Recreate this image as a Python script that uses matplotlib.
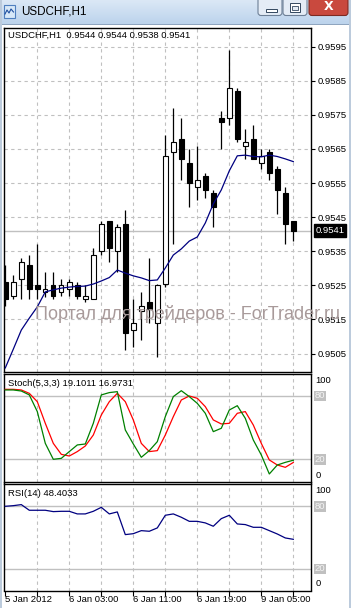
import numpy as np
import matplotlib
matplotlib.use("Agg")
import matplotlib.pyplot as plt
from matplotlib.patches import Rectangle, FancyBboxPatch
from matplotlib.colors import LinearSegmentedColormap

plt.rcParams["font.family"] = ["Liberation Sans", "DejaVu Sans"]

W, H, DPI = 351, 608, 100

# ---- data (USDCHF H1) ----
symbol = "USDCHF,H1"
opens = [0.9526, 0.9522, 0.9527, 0.9531, 0.9525, 0.9523, 0.9525, 0.9523, 0.9524, 0.9525,
         0.9521, 0.9521, 0.9535, 0.9544, 0.9535, 0.9543, 0.9512, 0.95175, 0.9520, 0.9514,
         0.95255, 0.9564, 0.9568, 0.9561, 0.9554, 0.9557, 0.9552, 0.9574, 0.9574, 0.9582,
         0.9566, 0.9568, 0.9561, 0.9564, 0.9559, 0.9552, 0.9544]
highs = [0.9531, 0.9528, 0.9533, 0.9534, 0.9537, 0.9529, 0.9529, 0.9527, 0.9527, 0.9526,
         0.9525, 0.9536, 0.9544, 0.9544, 0.9543, 0.9547, 0.9521, 0.9523, 0.9533, 0.95255,
         0.9569, 0.9577, 0.9574, 0.9565, 0.9566, 0.9558, 0.9553, 0.9576, 0.9594, 0.9583,
         0.9571, 0.9572, 0.9565, 0.9565, 0.9560, 0.9554, 0.9544]
lows = [0.9519, 0.9521, 0.9521, 0.9521, 0.9521, 0.95215, 0.9521, 0.9522, 0.9522, 0.9521,
        0.9520, 0.9521, 0.9534, 0.9532, 0.9529, 0.9506, 0.9507, 0.9509, 0.9514, 0.9504,
        0.95245, 0.9537, 0.9556, 0.9548, 0.9550, 0.95505, 0.9542, 0.9565, 0.9572, 0.9567,
        0.9562, 0.9562, 0.9559, 0.9556, 0.9546, 0.9537, 0.9538]
closes = [0.9521, 0.9526, 0.9532, 0.9524, 0.9524, 0.9524, 0.9522, 0.9525, 0.9526, 0.9522,
          0.9522, 0.9534, 0.9543, 0.9536, 0.9542, 0.9511, 0.9514, 0.9519, 0.9518, 0.9525,
          0.9563, 0.9567, 0.9562, 0.9555, 0.9556, 0.9553, 0.9548, 0.9573, 0.9583, 0.9568,
          0.9567, 0.9562, 0.9563, 0.9558, 0.9553, 0.9543, 0.9541]
ma_line = [0.95008, 0.95063, 0.95119, 0.95154, 0.95187, 0.95231, 0.95237, 0.95242, 0.95245,
           0.95247, 0.95248, 0.95254, 0.95263, 0.95273, 0.95295, 0.95286, 0.95278, 0.95272,
           0.95264, 0.95266, 0.95301, 0.95339, 0.95357, 0.95380, 0.95392, 0.95433, 0.95489,
           0.95530, 0.95586, 0.95630, 0.95632, 0.95628, 0.95627, 0.95632, 0.95628, 0.95621,
           0.95613]
stoch_main = [85.7, 85.7, 84.7, 81.0, 65.2, 35.1, 20.0, 20.9, 27.3, 33.6, 34.5, 54.1, 81.0,
              83.2, 84.1, 47.8, 34.5, 21.9, 28.2, 36.7, 60.4, 79.4, 85.0, 79.4, 73.0, 63.6,
              46.2, 49.4, 66.7, 70.8, 58.8, 38.3, 24.1, 6.1, 14.6, 17.1, 19.1]
stoch_signal = [86.3, 86.3, 85.7, 82.5, 74.6, 54.1, 35.1, 24.7, 23.1, 27.3, 32.6, 43.0, 62.0,
                74.6, 82.5, 74.6, 57.3, 35.1, 27.3, 28.2, 43.0, 60.4, 76.2, 80.0, 77.8, 69.9,
                57.3, 53.5, 54.1, 63.6, 65.2, 52.5, 35.1, 19.4, 14.6, 12.4, 17.0]
rsi = [80.0, 80.6, 81.6, 76.2, 76.2, 76.2, 74.9, 75.2, 75.2, 72.7, 72.7, 75.2, 79.0, 72.7,
       74.6, 52.9, 53.8, 56.7, 56.1, 59.3, 71.4, 72.7, 69.5, 65.6, 65.6, 64.1, 60.9, 68.2,
       71.4, 63.1, 62.5, 59.9, 59.9, 56.7, 53.5, 49.7, 48.4]

price_ticks = [0.9505, 0.9515, 0.9525, 0.9535, 0.9545, 0.9555, 0.9565, 0.9575, 0.9585, 0.9595]
levels = [80, 20]
time_labels = ["5 Jan 2012", "6 Jan 03:00", "6 Jan 11:00", "6 Jan 19:00", "9 Jan 05:00"]
time_label_bars = [0, 8, 16, 24, 32]
last_price = 0.9541
header_ohlc = "0.9544 0.9544 0.9538 0.9541"
stoch_header = "Stoch(5,3,3) 19.1011 16.9731"
rsi_header = "RSI(14) 48.4033"
watermark = "Портал для трейдеров - ForTrader.ru"

GRID = "#c0c0c0"
FS = 6.8


def px_box(left, top, right, bottom):
    return [left / W, 1 - bottom / H, (right - left) / W, (bottom - top) / H]


fig = plt.figure(figsize=(W / DPI, H / DPI), dpi=DPI, facecolor="white")
x = np.arange(len(closes))

ax_p = fig.add_axes(px_box(3.5, 27.5, 310.5, 371.5))
ax_s = fig.add_axes(px_box(3.5, 373.5, 310.5, 481.5))
ax_r = fig.add_axes(px_box(3.5, 483.5, 310.5, 590.5))

for ax in (ax_p, ax_s, ax_r):
    ax.set_xlim(-0.225, 38.15)
    for sp in ax.spines.values():
        sp.set_linewidth(1.0)
        sp.set_color("black")
    for b in x[4::4]:
        ax.axvline(b, color=GRID, lw=0.8, ls=(0, (3, 3)), zorder=0)
    ax.set_xticks([])
    ax.set_yticks([])

# ---- price panel ----
ax_p.set_ylim(0.949975, 0.960063)
for p in price_ticks:
    ax_p.axhline(p, color=GRID, lw=0.8, ls=(0, (3, 3)), zorder=0)
ax_p.yaxis.tick_right()
ax_p.set_yticks(price_ticks)
ax_p.set_yticklabels([f"{p:.4f}" for p in price_ticks])
ax_p.tick_params(axis="y", right=True, left=False, length=3, width=0.8, labelsize=FS, pad=2)
ax_p.axhline(last_price, color=GRID, lw=1.0, zorder=1)

bw = 0.55
ax_p.vlines(x, lows, highs, color="black", lw=0.9, zorder=2)
for i in x:
    o, c = opens[i], closes[i]
    if abs(c - o) < 1e-6:
        ax_p.hlines(o, i - bw / 2, i + bw / 2, color="black", lw=0.9, zorder=3)
        continue
    fc = "white" if c > o else "black"
    ax_p.add_patch(Rectangle((i - bw / 2, min(o, c)), bw, abs(c - o),
                             facecolor=fc, edgecolor="black", lw=0.8, zorder=3))
ax_p.plot(x, ma_line, color="#000080", lw=0.9, zorder=4)

ax_p.annotate(f"{symbol}  {header_ohlc}", xy=(0, 1), xycoords="axes fraction",
              xytext=(4, -7.5), textcoords="offset pixels", ha="left", va="center", fontsize=FS)
ax_p.annotate(f"{last_price:.4f}", xy=(1, last_price), xycoords=("axes fraction", "data"),
              xytext=(5, 0), textcoords="offset pixels", ha="left", va="center",
              fontsize=FS, color="white",
              bbox=dict(boxstyle="square,pad=0.2", fc="black", ec="black"))

# ---- indicator panels ----
def level_labels(ax, top_off):
    for v in levels:
        ax.axhline(v, color=GRID, lw=1.0, zorder=1)
        ax.annotate(str(v), xy=(1, v), xycoords=("axes fraction", "data"),
                    xytext=(4, 0), textcoords="offset pixels", ha="left", va="center",
                    fontsize=FS, color="#f4f4f4",
                    bbox=dict(boxstyle="square,pad=0.1", fc=GRID, ec="none"))
    ax.annotate("100", xy=(1, 1), xycoords="axes fraction", xytext=(5, -top_off),
                textcoords="offset pixels", ha="left", va="center", fontsize=FS)
    ax.annotate("0", xy=(1, 0), xycoords="axes fraction", xytext=(5, 6.5),
                textcoords="offset pixels", ha="left", va="center", fontsize=FS)


ax_s.set_ylim(-1.04, 101.3)
level_labels(ax_s, 7)
ax_s.plot(x, stoch_signal, color="#ff0000", lw=0.9, zorder=3)
ax_s.plot(x, stoch_main, color="#008000", lw=0.9, zorder=4)
ax_s.annotate(stoch_header, xy=(0, 1), xycoords="axes fraction", xytext=(4, -10.5),
              textcoords="offset pixels", ha="left", va="center", fontsize=FS)

ax_r.set_ylim(-0.57, 101.8)
level_labels(ax_r, 7)
ax_r.plot(x, rsi, color="#000080", lw=0.9, zorder=3)
ax_r.annotate(rsi_header, xy=(0, 1), xycoords="axes fraction", xytext=(4, -10),
              textcoords="offset pixels", ha="left", va="center", fontsize=FS)

ax_r.set_xticks(x[::4])
ax_r.set_xticklabels([])
ax_r.tick_params(axis="x", length=3.5, width=0.8, direction="out")
for b, lab in zip(time_label_bars, time_labels):
    ax_r.annotate(lab, xy=(b, 0), xycoords=("data", "axes fraction"), xytext=(0, -5),
                  textcoords="offset pixels", ha="left", va="top", fontsize=FS)

# ---- window chrome + watermark (pixel coordinates) ----
ax_c = fig.add_axes([0, 0, 1, 1])
ax_c.axis("off")
ax_c.patch.set_alpha(0)
grad = np.linspace(0, 1, 50).reshape(-1, 1)
cmap = LinearSegmentedColormap.from_list("bar", ["#dbe8f6", "#bcd3ec"])
ax_c.imshow(grad, extent=(0, W, 24, 0), aspect="auto", cmap=cmap)
ax_c.set_xlim(0, W)
ax_c.set_ylim(H, 0)
ax_c.add_patch(Rectangle((0, 23.5), W, 1.2, fc="#8fa5bf", ec="none"))
ax_c.add_patch(Rectangle((0, 0), 2.2, H, fc="#bccbdc", ec="none"))
ax_c.add_patch(Rectangle((W - 2.2, 0), 2.2, H, fc="#bccbdc", ec="none"))

# icon
ax_c.add_patch(Rectangle((3.5, 5), 11.5, 12.5, fc="#d7e8f8", ec="#4f7fbf", lw=0.8))
ax_c.plot([5, 7, 9, 11, 13.5], [14, 10, 13, 9, 12], color="#1f4f9f", lw=0.8)
ax_c.text(21, 12, symbol, fontsize=8.4, ha="left", va="center", color="black")

# buttons
for bx, bwid, fc, ec in [(258, 24, "#e4ecf6", "#6d7f96"), (283, 24, "#e4ecf6", "#6d7f96"),
                         (309, 39, "#c9493e", "#7d2a22")]:
    ax_c.add_patch(FancyBboxPatch((bx, -4), bwid, 19.5, boxstyle="round,pad=0,rounding_size=3",
                                  fc=fc, ec=ec, lw=0.8))
ax_c.add_patch(Rectangle((266, 9.3), 11, 2.6, fc="white", ec="#33475f", lw=0.7))
ax_c.add_patch(Rectangle((289.5, 3), 10.5, 8.8, fc="white", ec="#33475f", lw=0.7))
ax_c.add_patch(Rectangle((291.5, 5.8), 6.5, 4.2, fc="#e4ecf6", ec="#33475f", lw=0.6))
ax_c.text(328.5, 6.5, "X", fontsize=9, fontweight="bold", ha="center", va="center",
          color="white", family="DejaVu Sans")

ax_c.text(35, 314, watermark, fontsize=13, ha="left", va="center", color="#a89a9a")

fig.savefig("out.png", dpi=DPI, facecolor="white")
